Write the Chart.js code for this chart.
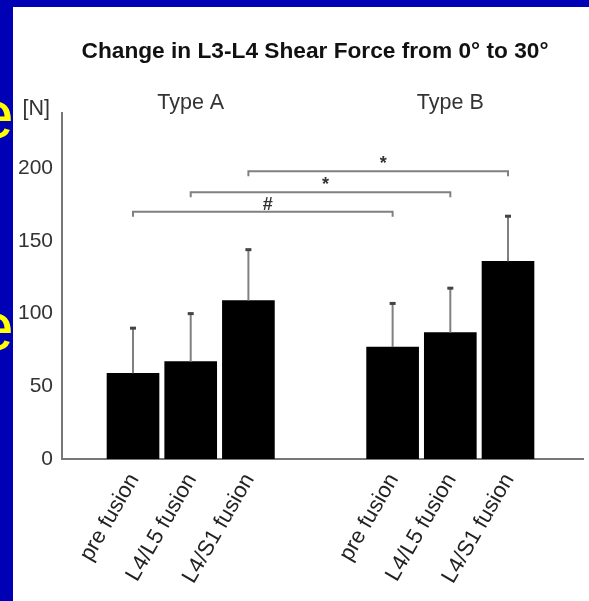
<!DOCTYPE html>
<html><head><meta charset="utf-8">
<script src="https://cdn.jsdelivr.net/npm/chart.js@4.4.1/dist/chart.umd.min.js"></script>
<style>
html,body{margin:0;padding:0;width:589px;height:601px;overflow:hidden;background:#0000b4;}
#panel{position:absolute;left:13px;top:7px;width:576px;height:594px;background:#fff;}
.ye{position:absolute;color:#ffff00;font-family:"Liberation Sans",Arial,sans-serif;font-size:68px;line-height:1;}
</style></head><body>
<div class="ye" style="left:-24px;top:80px">e</div>
<div class="ye" style="left:-24px;top:292px">e</div>
<div id="panel"><canvas id="c" width="576" height="594"></canvas></div>
<script>
// ---- data ----
const groups = ['Type A', 'Type B'];
const conditions = ['pre fusion', 'L4/L5 fusion', 'L4/S1 fusion'];
const typeA = [59, 67, 109];
const typeB = [77, 87, 136];
const typeAErrTop = [90, 100, 144];
const typeBErrTop = [107, 117.5, 167];
const yTicks = [0, 50, 100, 150, 200];
const bracketLevels = [170, 183.5, 198];
const bracketMarks = ['#', '*', '*'];
const titleText = 'Change in L3-L4 Shear Force from 0\u00b0 to 30\u00b0';
const unitLabel = '[N]';

// ---- layout constants ----
const GROUP_SPACING = 4.5;
const FONT = '"Liberation Sans", Arial, sans-serif';
const posOf = (g, i) => 1 + i + g * GROUP_SPACING;
const posA = conditions.map((c, i) => posOf(0, i));
const posB = conditions.map((c, i) => posOf(1, i));
const allPos = posA.concat(posB);
const allLabels = conditions.concat(conditions);

const deco = {
  id: 'deco',
  afterDraw(chart) {
    const ctx = chart.ctx, xs = chart.scales.x, ys = chart.scales.y;
    ctx.save();
    // title
    ctx.fillStyle = '#111';
    ctx.font = 'bold 22.7px ' + FONT;
    ctx.textAlign = 'center'; ctx.textBaseline = 'middle';
    ctx.fillText(titleText, 302, 45);
    // error bars
    const sets = [[posA, typeA, typeAErrTop], [posB, typeB, typeBErrTop]];
    sets.forEach(([pos, vals, errs]) => {
      pos.forEach((p, i) => {
        const x = xs.getPixelForValue(p);
        const y0 = ys.getPixelForValue(vals[i]);
        const y1 = ys.getPixelForValue(errs[i]);
        ctx.strokeStyle = '#808080'; ctx.lineWidth = 2;
        ctx.beginPath(); ctx.moveTo(x, y0); ctx.lineTo(x, y1); ctx.stroke();
        ctx.fillStyle = '#444';
        ctx.fillRect(x - 3, y1 - 1.5, 6, 3);
      });
    });
    // brackets
    bracketLevels.forEach((lv, i) => {
      const x1 = xs.getPixelForValue(posA[i]);
      const x2 = xs.getPixelForValue(posB[i]);
      const y = ys.getPixelForValue(lv);
      ctx.strokeStyle = '#808080'; ctx.lineWidth = 2;
      ctx.beginPath();
      ctx.moveTo(x1, y + 5); ctx.lineTo(x1, y); ctx.lineTo(x2, y); ctx.lineTo(x2, y + 5);
      ctx.stroke();
      ctx.fillStyle = '#333';
      ctx.font = 'bold 18px ' + FONT;
      ctx.textAlign = 'center'; ctx.textBaseline = 'bottom';
      ctx.fillText(bracketMarks[i], (x1 + x2) / 2 + 5, y + 2);
    });
    // group labels
    ctx.fillStyle = '#333';
    ctx.font = '21.5px ' + FONT;
    ctx.textAlign = 'center'; ctx.textBaseline = 'middle';
    groups.forEach((g, gi) => {
      const pos = gi === 0 ? posA : posB;
      const cx = xs.getPixelForValue((pos[0] + pos[pos.length - 1]) / 2);
      ctx.fillText(g, cx, 96);
    });
    // unit label
    ctx.textAlign = 'right';
    ctx.fillText(unitLabel, chart.chartArea.left - 12, 102);
    ctx.restore();
  }
};

new Chart(document.getElementById('c'), {
  type: 'bar',
  data: {
    datasets: [
      { label: groups[0], data: posA.map((p, i) => ({ x: p, y: typeA[i] })), backgroundColor: '#000', borderWidth: 0, barThickness: 52, grouped: false },
      { label: groups[1], data: posB.map((p, i) => ({ x: p, y: typeB[i] })), backgroundColor: '#000', borderWidth: 0, barThickness: 52, grouped: false }
    ]
  },
  options: {
    responsive: false,
    animation: false,
    layout: { padding: { left: 0, right: 6, top: 106, bottom: 0 } },
    plugins: {
      legend: { display: false },
      tooltip: { enabled: false },
      title: { display: false }
    },
    scales: {
      x: {
        type: 'linear', min: -0.231, max: 8.8, offset: false,
        grid: { display: false, drawTicks: false, offset: false },
        border: { display: true, color: '#777', width: 2 },
        afterBuildTicks: s => { s.ticks = allPos.map(v => ({ value: v })); },
        afterFit: s => { s.height = 142; },
        ticks: {
          autoSkip: false, minRotation: 60, maxRotation: 60, padding: 10, labelOffset: 1,
          color: '#222', font: { family: FONT, size: 22 },
          callback: (v, i) => allLabels[i]
        }
      },
      y: {
        min: 0, max: 238,
        grid: { display: false, drawTicks: false },
        border: { display: true, color: '#777', width: 2 },
        afterBuildTicks: s => { s.ticks = yTicks.map(v => ({ value: v })); },
        afterFit: s => { s.width = 49; },
        ticks: { padding: 9, color: '#333', font: { family: FONT, size: 21 } }
      }
    }
  },
  plugins: [deco]
});
</script>
</body></html>
